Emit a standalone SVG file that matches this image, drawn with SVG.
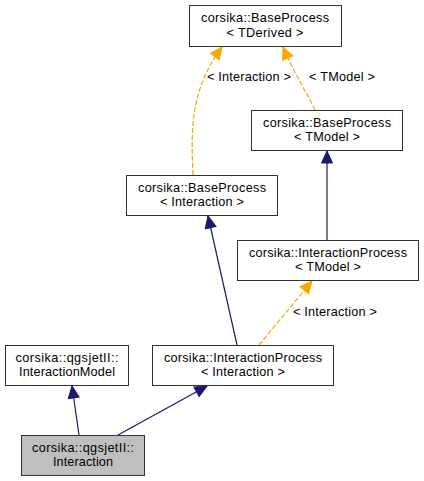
<svg xmlns="http://www.w3.org/2000/svg" width="424" height="481" viewBox="0 0 424 481">
<style>
  .box rect { fill: #ffffff; stroke: #333333; stroke-width: 1; }
  .box.cur rect { fill: #bfbfbf; }
  text { font-family: "Liberation Sans", Arial, sans-serif; font-size: 12.7px; fill: #000000; text-anchor: middle; }
  .inh { fill: none; stroke: #191970; stroke-width: 1.2; }
  .tpl { fill: none; stroke: #ffa500; stroke-width: 1.2; stroke-dasharray: 5,2; }
</style>
<defs>
  <marker id="an" markerUnits="userSpaceOnUse" markerWidth="14" markerHeight="12" refX="12" refY="5.5" orient="auto" overflow="visible">
    <path d="M0,0 L12,5.5 L0,11 Z" fill="#191970" stroke="#191970" stroke-width="1"/>
  </marker>
  <marker id="ao" markerUnits="userSpaceOnUse" markerWidth="14" markerHeight="12" refX="12" refY="5.5" orient="auto" overflow="visible">
    <path d="M0,0 L12,5.5 L0,11 Z" fill="#ffa500" stroke="#ffa500" stroke-width="1"/>
  </marker>
</defs>
<g id="connectors">
  <path class="inh" d="M79,435 L72,386" marker-end="url(#an)"/>
  <path class="inh" d="M118,435 L207,386" marker-end="url(#an)"/>
  <path class="inh" d="M237,345 L208,216" marker-end="url(#an)"/>
  <path class="inh" d="M327,240 L327,151" marker-end="url(#an)"/>
  <path class="tpl" d="M259,345 L312,281" marker-end="url(#ao)"/>
  <path class="tpl" d="M193,175 C191,130 190,90 222,47" marker-end="url(#ao)"/>
  <path class="tpl" d="M315,110 C308,95 295,75 283,47" marker-end="url(#ao)"/>
  <text x="249" y="81" textLength="84">&lt; Interaction &gt;</text>
  <text x="342" y="81" textLength="66">&lt; TModel &gt;</text>
  <text x="335" y="316" textLength="84">&lt; Interaction &gt;</text>
</g>
<g id="BaseProcess_TDerived" class="box">
  <rect x="189.5" y="5.5" width="152" height="41"/>
  <text x="265" y="22" textLength="128">corsika::BaseProcess</text>
  <text x="265" y="36.5" textLength="77">&lt; TDerived &gt;</text>
</g>
<g id="BaseProcess_TModel" class="box">
  <rect x="251.5" y="110.5" width="151" height="40"/>
  <text x="327" y="127" textLength="128">corsika::BaseProcess</text>
  <text x="327" y="141" textLength="66">&lt; TModel &gt;</text>
</g>
<g id="BaseProcess_Interaction" class="box">
  <rect x="126.5" y="175.5" width="151" height="40"/>
  <text x="202" y="192" textLength="128">corsika::BaseProcess</text>
  <text x="202" y="206" textLength="84">&lt; Interaction &gt;</text>
</g>
<g id="InteractionProcess_TModel" class="box">
  <rect x="237.5" y="240.5" width="181" height="40"/>
  <text x="328" y="257" textLength="158">corsika::InteractionProcess</text>
  <text x="328" y="271" textLength="66">&lt; TModel &gt;</text>
</g>
<g id="InteractionModel" class="box">
  <rect x="5.5" y="345.5" width="123" height="40"/>
  <text x="67" y="362" textLength="103">corsika::qgsjetII::</text>
  <text x="67" y="376" textLength="96">InteractionModel</text>
</g>
<g id="InteractionProcess_Interaction" class="box">
  <rect x="152.5" y="345.5" width="181" height="40"/>
  <text x="243" y="362" textLength="158">corsika::InteractionProcess</text>
  <text x="243" y="376" textLength="84">&lt; Interaction &gt;</text>
</g>
<g id="Interaction" class="box cur">
  <rect x="21.5" y="435.5" width="123" height="40"/>
  <text x="83" y="452" textLength="102">corsika::qgsjetII::</text>
  <text x="83" y="466" textLength="60">Interaction</text>
</g>
</svg>
